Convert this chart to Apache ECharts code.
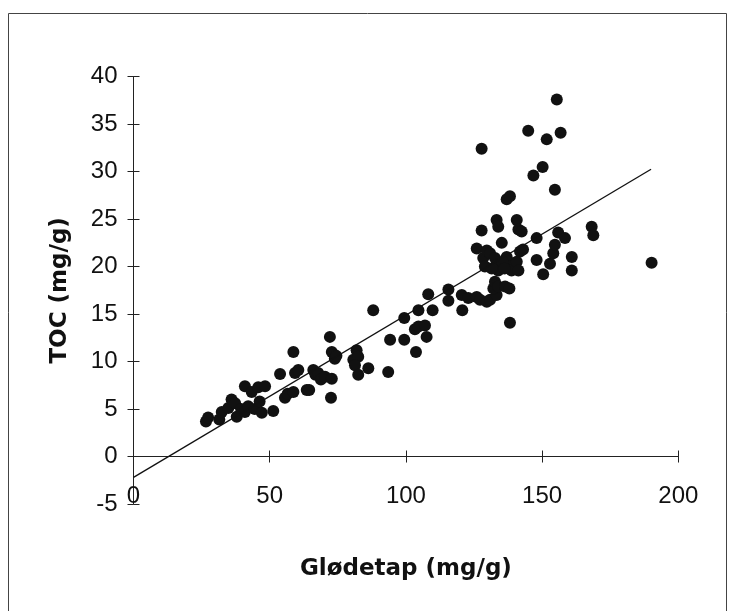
<!DOCTYPE html>
<html>
<head>
<meta charset="utf-8">
<script src="https://cdn.jsdelivr.net/npm/echarts@6/dist/echarts.min.js"></script>
<style>html,body{margin:0;padding:0;background:#fff}#c{width:732px;height:611px}</style>
</head>
<body>
<div id="c"></div>
<script>
const glodetap = [26.6,27.4,31.5,32.4,34.8,36.0,37.3,37.9,39.5,40.9,40.9,42.1,43.4,44.5,45.8,46.3,47.1,48.3,51.3,53.8,55.6,56.6,58.7,58.7,59.3,60.5,63.6,64.5,66.0,66.8,67.8,68.8,70.3,72.1,72.5,72.8,72.8,73.9,74.5,80.7,81.9,82.5,81.3,82.5,86.2,88.0,93.5,94.2,99.4,99.4,103.3,104.6,107.0,107.6,103.7,104.6,109.8,108.2,115.6,115.6,120.7,120.5,122.9,126.0,127.2,129.7,130.9,133.3,132.1,132.7,133.9,136.4,138.2,126.0,127.8,128.4,129.0,129.7,130.9,132.7,133.3,133.9,133.3,133.9,135.2,137.0,137.6,138.2,138.8,140.7,141.3,142.5,140.7,141.3,141.9,143.0,137.0,138.2,127.8,144.9,146.8,148.0,148.0,150.4,150.2,151.7,152.9,154.1,154.7,154.7,155.4,155.9,156.8,158.4,160.9,160.9,168.2,168.8,190.2,131.5,135.5,136.2,138.0];
const toc = [3.7,4.1,3.9,4.7,5.1,6.0,5.6,4.2,5.0,7.4,4.7,5.3,6.8,5.0,7.3,5.8,4.6,7.4,4.8,8.7,6.2,6.6,11.0,6.8,8.8,9.1,7.0,7.0,9.1,8.6,8.8,8.1,8.4,12.6,6.2,11.0,8.2,10.3,10.6,10.2,11.2,10.5,9.6,8.6,9.3,15.4,8.9,12.3,14.6,12.3,13.4,13.7,13.8,12.6,11.0,15.4,15.4,17.1,17.6,16.4,15.4,17.0,16.7,16.8,16.5,16.3,16.5,17.0,17.7,18.4,17.9,17.9,14.1,21.9,23.8,20.9,20.0,21.7,21.4,20.9,20.2,19.6,24.9,24.2,22.5,21.0,20.5,20.0,19.6,24.9,23.9,23.7,20.5,19.6,21.6,21.8,27.1,27.4,32.4,34.3,29.6,23.0,20.7,19.2,30.5,33.4,20.3,21.4,22.3,28.1,37.6,23.6,34.1,23.0,21.0,19.6,24.2,23.3,20.4,19.8,20.5,19.8,17.7];
const trendX = [0, 190];
const trendY = [-2.2, 30.25];
const xTicks = [0, 50, 100, 150, 200];
const yTicks = [-5, 0, 5, 10, 15, 20, 25, 30, 35, 40];

const chart = echarts.init(document.getElementById('c'), null, {renderer: 'canvas'});
const lineCol = '#222';
const labelFont = {fontFamily: 'Liberation Sans', fontSize: 24, color: '#111'};
const nameFont = {fontFamily: 'DejaVu Sans', fontSize: 23, fontWeight: 'bold', color: '#111'};
const xBase = {
  type: 'value', min: xTicks[0], max: xTicks[xTicks.length - 1], interval: 50,
  splitLine: {show: false},
  axisLine: {onZero: true, lineStyle: {color: lineCol, width: 1}}
};
const yBase = {
  type: 'value', min: yTicks[0], max: yTicks[yTicks.length - 1], interval: 5,
  splitLine: {show: false},
  axisLine: {onZero: true, lineStyle: {color: lineCol, width: 1}}
};
chart.setOption({
  animation: false,
  backgroundColor: '#fff',
  grid: {left: 133.5, right: 53.7, top: 76.7, bottom: 107, containLabel: false, outerBoundsMode: 'none'},
  graphic: [{
    type: 'rect', silent: true, z: -1,
    shape: {x: 8.5, y: 13.5, width: 718, height: 640},
    style: {fill: 'none', stroke: '#444', lineWidth: 1}
  }],
  xAxis: [
    Object.assign({}, xBase, {
      position: 'bottom',
      name: 'Glødetap (mg/g)', nameLocation: 'middle', nameGap: 54, nameTextStyle: nameFont,
      axisTick: {show: true, length: 6, inside: false, lineStyle: {color: lineCol}},
      axisLabel: Object.assign({margin: -20}, labelFont)
    }),
    Object.assign({}, xBase, {
      position: 'top',
      axisTick: {show: true, length: 6, inside: false, lineStyle: {color: lineCol}},
      axisLabel: {show: false}
    })
  ],
  yAxis: [
    Object.assign({}, yBase, {
      position: 'left',
      name: 'TOC (mg/g)', nameLocation: 'middle', nameGap: 62, nameTextStyle: nameFont,
      axisTick: {show: true, length: 6, inside: false, lineStyle: {color: lineCol}},
      axisLabel: Object.assign({margin: 16}, labelFont)
    }),
    Object.assign({}, yBase, {
      position: 'right',
      axisTick: {show: true, length: 6, inside: false, lineStyle: {color: lineCol}},
      axisLabel: {show: false}
    })
  ],
  series: [
    {
      type: 'line', xAxisIndex: 0, yAxisIndex: 0,
      data: trendX.map((x, i) => [x, trendY[i]]),
      showSymbol: false, symbol: 'none',
      lineStyle: {color: '#111', width: 1.3}, z: 3
    },
    {
      type: 'scatter', xAxisIndex: 0, yAxisIndex: 0,
      data: glodetap.map((x, i) => [x, toc[i]]),
      symbol: 'circle', symbolSize: 12,
      itemStyle: {color: '#111', opacity: 1}, z: 2
    }
  ]
});
</script>
</body>
</html>
